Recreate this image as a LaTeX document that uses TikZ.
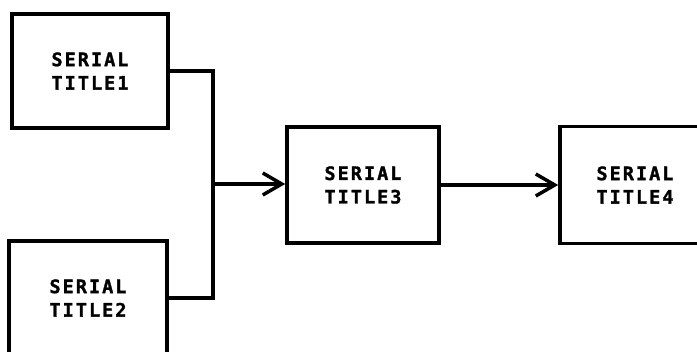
\documentclass[tikz,border=0pt]{standalone}
\usepackage{fontspec}
\usetikzlibrary{positioning,calc,arrows.meta}
\newfontfamily\plotfont[LetterSpace=11,FakeBold=1.5]{DejaVu Sans Mono Bold}
\tikzset{
	>={Straight Barb[length=19pt,width=22pt,line width=3.5pt]},
	dedge/.style={arrows=->, black, line width=3.5pt},
}
\tikzstyle{srect} = [rectangle, draw=black, line width=3.5pt, inner sep=0pt, align=center, font={\plotfont\fontsize{18.5}{23.5}\selectfont}]

\begin{document}
\begin{tikzpicture}[x=1pt,y=-1pt]
	\useasboundingbox (0,0) rectangle (697,352);
	
	\node[srect, minimum width=156pt, minimum height=114pt] (t1) at (90,71) {SERIAL\\TITLE1};
	\node[srect, minimum width=158pt, minimum height=114pt] (t2) at (88,298) {SERIAL\\TITLE2};
	\node[srect, minimum width=152pt, minimum height=116pt] (t3) at (363,185) {SERIAL\\TITLE3};
	\node[srect, minimum width=150pt, minimum height=117pt] (t4) at (635,185) {SERIAL\\TITLE4};
	
	\coordinate (jn) at (213,184);
	\draw[line width=3.5pt] (t1.east) -| (jn) |- (t2.east);
	\path (jn) edge [dedge] (jn -| t3.west);
	\path (t3) edge [dedge] (t4);
\end{tikzpicture}
\end{document}
